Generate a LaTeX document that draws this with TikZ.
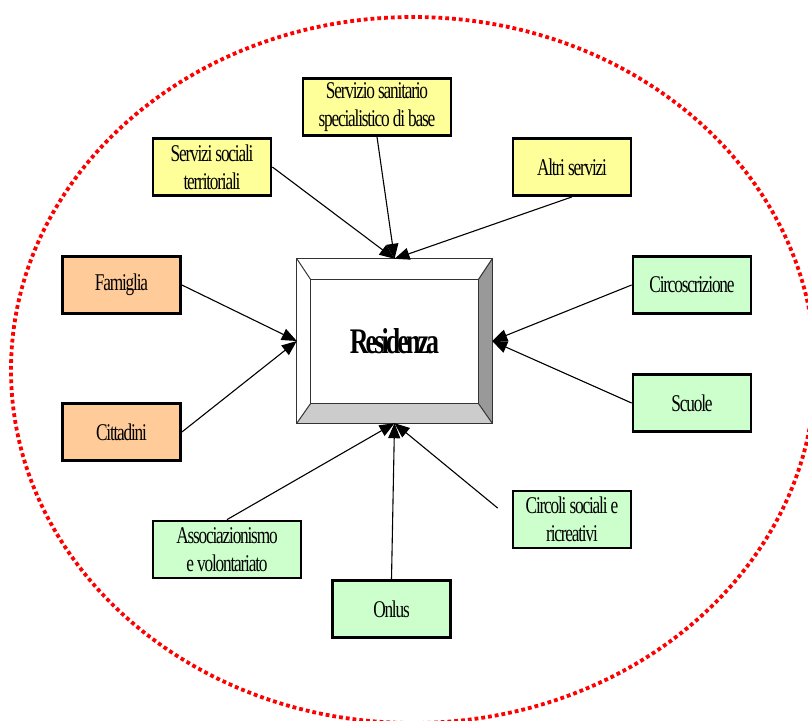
\documentclass[tikz,border=0pt]{standalone}
\usepackage{fontspec}
\setmainfont{Liberation Serif}[FakeStretch=0.72,LetterSpace=-5]
\usetikzlibrary{arrows.meta}

\definecolor{giallo}{HTML}{FFFF99}
\definecolor{arancio}{HTML}{FFCC99}
\definecolor{verde}{HTML}{CCFFCC}

\tikzset{
  ente/.style={draw,line width=2.8pt,minimum width=118pt,minimum height=57pt,
    align=center,inner sep=2pt,font=\fontsize{24}{28}\selectfont},
  freccia/.style={-{Triangle[length=15pt,width=12pt]},line width=1.1pt},
}

\begin{document}
\begin{tikzpicture}[x=1pt,y=-1pt]
                      \useasboundingbox(0,0)rectangle(808,720);
                      \draw[red,line width=3.8pt,dash pattern=on 3.8pt off 3pt](413,370)ellipse[x radius=402pt,y radius=353pt];
                      % Residenza box
                      \node[minimum width=195pt,minimum height=164pt,inner sep=0pt](res)at(394.5,341){};
                      \fill[white](res.north west)rectangle(res.south east);
                      \node[minimum width=167pt,minimum height=123pt,inner sep=0pt](resin)at(394.5,341.5){};
                      \fill[gray!80](res.north east)--(res.south east)--(resin.south east)--(resin.north east)--cycle;
                      \fill[gray!40](res.south west)--(res.south east)--(resin.south east)--(resin.south west)--cycle;
                      \draw[black!80,line width=1pt](res.north west)rectangle(res.south east);
                      \draw[black!80,line width=1pt](resin.north west)rectangle(resin.south east);
                      \foreach \c in {north west,north east,south west,south east} \draw[black!80,line width=1pt](res.\c)--(resin.\c);
                      \node[font=\fontsize{36}{38}\bfseries\selectfont\addfontfeature{LetterSpace=-8}](restxt)at(resin.center){Residenza};
                      % enti
                      \node[ente,fill=giallo,minimum width=148pt](sanit)at(377,107){Servizio sanitario\\specialistico di base};
                      \node[ente,fill=giallo](soc)at(212,167){Servizi sociali\\territoriali};
                      \node[ente,fill=giallo](altri)at(572,167){Altri servizi};
                      \node[ente,fill=arancio](fam)at(121.5,285){Famiglia};
                      \node[ente,fill=arancio](citt)at(121.5,432){Cittadini};
                      \node[ente,fill=verde](circo)at(692,285){Circoscrizione};
                      \node[ente,fill=verde](scuole)at(692,403){Scuole};
                      \node[ente,fill=verde](circoli)at(572,519.5){Circoli sociali e\\ricreativi};
                      \node[ente,fill=verde,minimum width=148pt](assoc)at(227,549.5){Associazionismo\\e volontariato};
                      \node[ente,fill=verde](onlus)at(391.5,609){Onlus};
                      % frecce
                      \draw[freccia](soc.east)--(res.north);
                      \draw[freccia](sanit.south)--(res.north);
                      \draw[freccia](altri.south)--(res.north);
                      \draw[freccia](fam.east)--(res.west);
                      \draw[freccia](citt.east)--(res.west);
                      \draw[freccia](circo.west)--(res.east);
                      \draw[freccia](scuole.west)--(res.east);
                      \draw[freccia](assoc.north)--(res.south);
                      \draw[freccia](onlus.north)--(res.south);
                      \draw[freccia,shorten <=18pt](circoli.west)--(res.south);
                  \end{tikzpicture}
\end{document}
